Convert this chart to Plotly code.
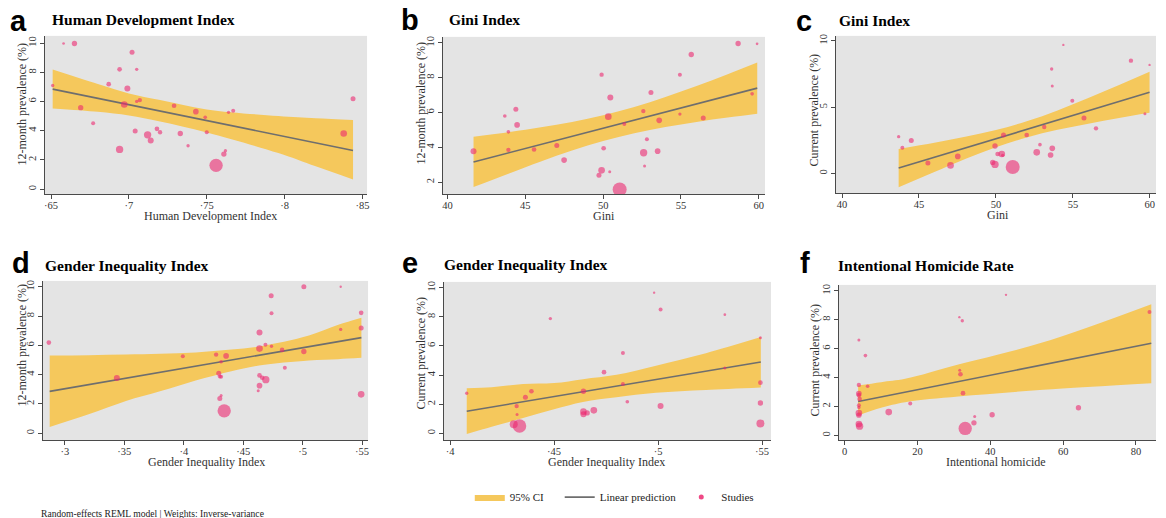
import plotly.graph_objects as go

W, H = 1166, 518

# ---------------- data ----------------
# a: Human Development Index vs 12-month prevalence
hdi_a = [0.651, 0.658, 0.665, 0.669, 0.677, 0.687, 0.694, 0.694, 0.697, 0.699, 0.702, 0.704, 0.705, 0.705, 0.707, 0.712,
         0.714, 0.718, 0.720, 0.729, 0.733, 0.738, 0.743, 0.749, 0.750, 0.756, 0.761, 0.762, 0.764, 0.767, 0.838, 0.844]
prev_a = [7.10, 9.98, 9.98, 5.58, 4.51, 7.19, 8.21, 2.72, 5.80, 6.89, 9.37, 3.99, 8.21, 6.01, 6.10, 3.72,
          3.33, 4.13, 3.90, 5.71, 3.81, 2.97, 5.31, 4.92, 3.90, 1.63, 2.40, 2.63, 5.26, 5.37, 3.81, 6.19]
wt_a = [10, 8, 16, 16, 12, 14, 14, 22, 20, 18, 15, 15, 10, 10, 13, 22, 18, 14, 13, 14, 16, 10, 17, 11, 12, 40, 16, 10, 10, 12, 20, 15]
ci_x_a = [0.651, 0.68, 0.70, 0.72, 0.75, 0.796, 0.82, 0.844]
ci_hi_a = [8.19, 7.20, 6.55, 6.10, 5.46, 5.01, 4.85, 4.74]
ci_lo_a = [5.53, 5.30, 5.05, 4.63, 3.88, 2.47, 1.56, 0.66]
fit_x_a = [0.651, 0.844]
fit_y_a = [6.85, 2.65]

# b: Gini vs 12-month prevalence
gini_b = [41.67, 43.68, 44.39, 43.91, 44.47, 43.91, 45.56, 47.02, 47.49, 49.90, 49.73, 49.90, 50.03, 50.33, 50.46, 50.42,
          51.06, 51.36, 52.58, 52.60, 52.66, 52.81, 53.07, 53.50, 53.60, 54.93, 54.93, 55.66, 56.43, 58.67, 59.57, 59.89]
prev_b = [3.78, 5.80, 6.18, 4.89, 5.29, 3.86, 3.88, 4.11, 3.27, 8.17, 2.40, 2.68, 3.95, 5.76, 6.86, 2.60,
          1.58, 5.34, 6.08, 3.69, 2.93, 4.47, 7.15, 3.78, 5.55, 8.17, 5.91, 9.33, 5.68, 9.96, 7.07, 9.94]
wt_b = [18, 11, 15, 11, 17, 13, 14, 15, 17, 13, 15, 20, 14, 20, 18, 9, 42, 12, 13, 22, 9, 12, 15, 17, 17, 12, 10, 16, 15, 16, 11, 8]
ci_x_b = [41.67, 44, 46, 48, 50, 52, 54, 56, 58, 59.9]
ci_hi_b = [4.61, 4.88, 5.15, 5.46, 5.84, 6.31, 6.89, 7.52, 8.20, 8.87]
ci_lo_b = [1.72, 2.52, 3.19, 3.82, 4.36, 4.81, 5.17, 5.46, 5.71, 5.93]
fit_x_b = [41.67, 59.9]
fit_y_b = [3.16, 7.40]

# c: Gini vs current prevalence
gini_c = [43.68, 43.92, 44.50, 45.58, 47.05, 47.52, 49.79, 49.94, 49.94, 50.11, 50.38, 50.44, 50.49, 51.09, 52.00,
          52.65, 52.86, 53.14, 53.55, 53.66, 53.62, 53.66, 54.38, 54.96, 55.72, 56.50, 58.77, 59.68, 59.98]
prev_c = [2.77, 1.94, 2.49, 0.78, 0.60, 1.28, 0.83, 2.07, 0.68, 1.46, 1.46, 1.36, 2.90, 0.48, 2.90,
          1.59, 2.17, 3.50, 1.39, 1.89, 7.88, 6.60, 9.70, 5.49, 4.18, 3.40, 8.51, 4.51, 8.19]
wt_c = [10, 12, 15, 15, 20, 17, 16, 16, 22, 14, 20, 10, 15, 42, 14, 20, 11, 13, 17, 17, 10, 9, 7, 12, 15, 13, 13, 9, 7]
ci_x_c = [43.68, 46, 48, 50, 52, 54, 56, 58, 59.98]
ci_hi_c = [1.85, 2.32, 2.76, 3.27, 3.93, 4.75, 5.69, 6.68, 7.68]
ci_lo_c = [-1.05, 0.10, 1.08, 1.97, 2.71, 3.29, 3.75, 4.18, 4.57]
fit_x_c = [43.68, 59.98]
fit_y_c = [0.40, 6.12]

# d: Gender Inequality Index vs 12-month prevalence
gii_d = [0.2865, 0.3437, 0.3992, 0.4272, 0.4294, 0.4303, 0.4314, 0.4314, 0.4356, 0.4314, 0.4303, 0.4340, 0.4637, 0.4637,
         0.4637, 0.4637, 0.4626, 0.4660, 0.4690, 0.4687, 0.4735, 0.4738, 0.4738, 0.4827, 0.4850, 0.5010, 0.5010,
         0.5320, 0.5320, 0.5492, 0.5492, 0.5492]
prev_d = [6.19, 3.77, 5.26, 5.37, 4.09, 3.88, 3.86, 4.88, 5.28, 2.57, 2.37, 1.53, 6.88, 5.78,
          3.95, 3.25, 2.91, 3.79, 3.66, 6.05, 9.39, 8.19, 5.94, 5.69, 4.47, 10.0, 5.58,
          10.0, 7.09, 8.22, 7.18, 2.66]
wt_d = [14, 18, 12, 13, 15, 12, 12, 11, 17, 9, 15, 40, 18, 20, 14, 17, 9, 14, 22, 12, 15, 12, 10, 14, 12, 15, 16, 7, 10, 14, 15, 20]
ci_x_d = [0.2872, 0.32, 0.3514, 0.38, 0.41, 0.44, 0.4633, 0.5053, 0.53, 0.5494]
ci_hi_d = [5.31, 5.33, 5.37, 5.42, 5.52, 5.71, 5.92, 6.67, 7.40, 7.88]
ci_lo_d = [0.43, 1.29, 2.20, 2.86, 3.60, 4.24, 4.63, 4.97, 5.06, 5.15]
fit_x_d = [0.2872, 0.5494]
fit_y_d = [2.86, 6.53]

# e: Gender Inequality Index vs current prevalence
gii_e = [0.408, 0.4306, 0.432, 0.4322, 0.4334, 0.4362, 0.4391, 0.4482, 0.4641, 0.4641, 0.4641, 0.4659, 0.4691,
         0.4740, 0.4831, 0.4831, 0.4852, 0.4981, 0.5012, 0.5012, 0.5321, 0.5321, 0.5492, 0.5492, 0.5492, 0.5492]
prev_e = [2.75, 0.63, 1.87, 1.29, 0.50, 2.48, 2.89, 7.88, 2.89, 1.49, 1.31, 1.40, 1.58,
          4.20, 5.51, 3.39, 2.17, 9.66, 8.51, 1.87, 8.15, 4.49, 6.57, 3.48, 2.08, 0.68]
wt_e = [10, 24, 13, 9, 40, 15, 14, 10, 16, 20, 18, 16, 20, 14, 12, 12, 11, 7, 12, 18, 8, 9, 9, 14, 16, 24]
ci_x_e = [0.408, 0.42, 0.4351, 0.45, 0.4639, 0.48, 0.499, 0.523, 0.5494]
ci_hi_e = [3.10, 3.17, 3.38, 3.45, 3.72, 4.02, 4.65, 5.50, 6.61]
ci_lo_e = [-0.05, 0.45, 1.05, 1.65, 2.15, 2.47, 2.78, 2.97, 3.14]
fit_x_e = [0.408, 0.5494]
fit_y_e = [1.52, 4.90]

# f: Intentional homicide vs current prevalence
hom_f = [3.9, 3.9, 3.9, 3.9, 4.1, 3.9, 3.9, 3.9, 3.9, 3.9, 4.1, 5.7, 6.3, 12.1, 18.0, 31.5, 32.3, 31.6, 31.8, 32.5,
         33.1, 35.5, 35.7, 40.5, 44.3, 64.2, 83.7]
prev_f = [6.60, 3.49, 2.90, 2.78, 2.51, 2.09, 1.93, 1.54, 1.40, 0.78, 0.64, 5.52, 3.40, 1.61, 2.21, 8.18, 7.93, 4.51,
          4.23, 2.92, 0.48, 0.87, 1.31, 1.43, 9.72, 1.91, 8.53]
wt_f = [9, 13, 17, 14, 14, 12, 10, 20, 16, 20, 22, 11, 11, 20, 12, 7, 10, 9, 14, 14, 40, 16, 9, 16, 7, 16, 12]
ci_x_f = [3.7, 10, 16.6, 31.2, 54.5, 84.2]
ci_hi_f = [3.45, 3.68, 3.91, 4.90, 6.44, 9.08]
ci_lo_f = [1.38, 1.91, 2.30, 2.69, 3.15, 3.61]
fit_x_f = [3.7, 84.2]
fit_y_f = [2.34, 6.37]

# tick labels
xt_a = [0.65, 0.7, 0.75, 0.8, 0.85]
xl_a = ['·65', '·7', '·75', '·8', '·85']
xt_gini = [40, 45, 50, 55, 60]
xt_d = [0.3, 0.35, 0.4, 0.45, 0.5, 0.55]
xl_d = ['·3', '·35', '·4', '·45', '·5', '·55']
xt_e = [0.4, 0.45, 0.5, 0.55]
xl_e = ['·4', '·45', '·5', '·55']
xt_f = [0, 20, 40, 60, 80]
yt_10 = [0, 2, 4, 6, 8, 10]
yt_b = [2, 4, 6, 8, 10]
yt_c = [0, 5, 10]

panel_letters = ['a', 'b', 'c', 'd', 'e', 'f']
panel_titles = ['Human Development Index', 'Gini Index', 'Gini Index',
                'Gender Inequality Index', 'Gender Inequality Index', 'Intentional Homicide Rate']
x_titles = ['Human Development Index', 'Gini', 'Gini', 'Gender Inequality Index',
            'Gender Inequality Index', 'Intentional homicide']
y_titles = ['12-month prevalence (%)', '12-month prevalence (%)', 'Current prevalence (%)',
            '12-month prevalence (%)', 'Current prevalence (%)', 'Current prevalence (%)']
legend_names = ['95% CI', 'Linear prediction', 'Studies']

# ---------------- styling ----------------
BAND = 'rgb(245,200,92)'
LINE = '#6e6e6e'
DOT = 'rgba(236,38,110,0.84)'
BG = '#e4e4e4'
AX = '#4a4a4a'
SERIF = 'Liberation Serif'
SANS = 'Liberation Sans'

panels = [
    dict(x=hdi_a, y=prev_a, w=wt_a, cx=ci_x_a, hi=ci_hi_a, lo=ci_lo_a, fx=fit_x_a, fy=fit_y_a,
         box=(44, 34, 367, 193), xr=[0.646, 0.853], yr=[-0.35, 10.5], xt=xt_a, xl=xl_a, yt=yt_10,
         letter=(18, 19), title=(49, 18), ytl=(21, 102), xtl=(210, 215)),
    dict(x=gini_b, y=prev_b, w=wt_b, cx=ci_x_b, hi=ci_hi_b, lo=ci_lo_b, fx=fit_x_b, fy=fit_y_b,
         box=(443, 35, 766, 193), xr=[39.7, 60.4], yr=[1.31, 10.34], xt=xt_gini, xl=None, yt=yt_b,
         letter=(410, 18), title=(447, 18), ytl=(421, 101), xtl=(605, 215)),
    dict(x=gini_c, y=prev_c, w=wt_c, cx=ci_x_c, hi=ci_hi_c, lo=ci_lo_c, fx=fit_x_c, fy=fit_y_c,
         box=(837, 34, 1158, 192), xr=[39.6, 60.4], yr=[-1.5, 10.38], xt=xt_gini, xl=None, yt=yt_c,
         letter=(805, 19), title=(838, 19), ytl=(815, 108), xtl=(1000, 214)),
    dict(x=gii_d, y=prev_d, w=wt_d, cx=ci_x_d, hi=ci_hi_d, lo=ci_lo_d, fx=fit_x_d, fy=fit_y_d,
         box=(42, 280, 368, 440), xr=[0.2815, 0.555], yr=[-0.48, 10.4], xt=xt_d, xl=xl_d, yt=yt_10,
         letter=(20, 262), title=(42, 265), ytl=(21, 344), xtl=(206, 462)),
    dict(x=gii_e, y=prev_e, w=wt_e, cx=ci_x_e, hi=ci_hi_e, lo=ci_lo_e, fx=fit_x_e, fy=fit_y_e,
         box=(444, 281, 772, 440), xr=[0.397, 0.5543], yr=[-0.48, 10.4], xt=xt_e, xl=xl_e, yt=yt_10,
         letter=(410, 262), title=(442, 264), ytl=(421, 352), xtl=(607, 462)),
    dict(x=hom_f, y=prev_f, w=wt_f, cx=ci_x_f, hi=ci_hi_f, lo=ci_lo_f, fx=fit_x_f, fy=fit_y_f,
         box=(840, 284, 1158, 440), xr=[-1.6, 85.5], yr=[-0.34, 10.41], xt=xt_f, xl=None, yt=yt_10,
         letter=(806, 262), title=(837, 265), ytl=(816, 359), xtl=(998, 462)),
]


def px(x):
    return x / W


def py(y):
    return 1 - y / H


fig = go.Figure()
layout = dict(
    width=W, height=H, margin=dict(l=0, r=0, t=0, b=0),
    paper_bgcolor='white', plot_bgcolor=BG,
    font=dict(family=SERIF, size=11, color='#222'),
    showlegend=True,
    legend=dict(orientation='h', x=px(470), y=py(497), xanchor='left', yanchor='middle',
                font=dict(family=SERIF, size=11, color='#222'), bgcolor='rgba(0,0,0,0)',
                itemwidth=30, tracegroupgap=0),
)
annotations = []

for i, p in enumerate(panels):
    n = '' if i == 0 else str(i + 1)
    xa, ya = 'x' + n, 'y' + n
    first = (i == 0)
    # CI band
    fig.add_trace(go.Scatter(x=p['cx'], y=p['lo'], mode='lines', line=dict(width=0, color=BAND, shape='spline'),
                             xaxis=xa, yaxis=ya, showlegend=False, hoverinfo='skip'))
    fig.add_trace(go.Scatter(x=p['cx'], y=p['hi'], mode='lines', line=dict(width=0, color=BAND, shape='spline'),
                             fill='tonexty', fillcolor=BAND, xaxis=xa, yaxis=ya,
                             name=legend_names[0] + '\u00a0\u00a0\u00a0\u00a0',
                             legendgroup='ci', showlegend=first, hoverinfo='skip'))
    # linear prediction
    fig.add_trace(go.Scatter(x=p['fx'], y=p['fy'], mode='lines', line=dict(width=1.6, color=LINE),
                             xaxis=xa, yaxis=ya, name=legend_names[1], legendgroup='lp', showlegend=first))
    # studies (sizes scaled from the study weights)
    fig.add_trace(go.Scatter(x=p['x'], y=p['y'], mode='markers',
                             marker=dict(size=p['w'], sizemode='diameter', sizeref=3, color=DOT, line=dict(width=0)),
                             xaxis=xa, yaxis=ya, name=legend_names[2], legendgroup='st', showlegend=False))

    x0, y0, x1, y1 = p['box']
    common = dict(showline=True, linecolor=AX, linewidth=1, ticks='outside', ticklen=4, tickcolor=AX,
                  tickwidth=1, showgrid=False, zeroline=False,
                  tickfont=dict(family=SERIF, size=10.5, color='#333'))
    xaxis = dict(common, domain=[px(x0), px(x1)], range=p['xr'], anchor=ya, tickvals=p['xt'],
                 ticklabelstandoff=-3)
    if p['xl'] is not None:
        xaxis['ticktext'] = p['xl']
    yaxis = dict(common, domain=[py(y1), py(y0)], range=p['yr'], anchor=xa, tickvals=p['yt'], tickangle=-90)
    layout['xaxis' + n] = xaxis
    layout['yaxis' + n] = yaxis

    lx, ly = p['letter']
    annotations.append(dict(text='<b>%s</b>' % panel_letters[i], x=px(lx), y=py(ly), xref='paper', yref='paper',
                            xanchor='center', yanchor='middle', showarrow=False,
                            font=dict(family=SANS, size=29, color='black')))
    tx, ty = p['title']
    annotations.append(dict(text='<b>%s</b>' % panel_titles[i], x=px(tx), y=py(ty), xref='paper', yref='paper',
                            xanchor='left', yanchor='middle', showarrow=False,
                            font=dict(family=SERIF, size=15.5, color='black')))
    yx, yy = p['ytl']
    annotations.append(dict(text=y_titles[i], x=px(yx), y=py(yy), xref='paper', yref='paper',
                            xanchor='center', yanchor='middle', textangle=-90, showarrow=False,
                            font=dict(family=SERIF, size=12, color='#333')))
    xx, xy = p['xtl']
    annotations.append(dict(text=x_titles[i], x=px(xx), y=py(xy), xref='paper', yref='paper',
                            xanchor='center', yanchor='middle', showarrow=False,
                            font=dict(family=SERIF, size=12, color='#333')))

# legend entry for the study markers (small dot, as in the reference legend)
fig.add_trace(go.Scatter(x=[None], y=[None], mode='markers', marker=dict(size=5, color=DOT),
                         name=legend_names[2], legendgroup='st', showlegend=True))

annotations.append(dict(text='Random-effects REML model | Weights: Inverse-variance', x=px(38), y=py(513),
                        xref='paper', yref='paper', xanchor='left', yanchor='middle', showarrow=False,
                        font=dict(family=SERIF, size=9.6, color='#222')))

layout['annotations'] = annotations
fig.update_layout(**layout)
fig.write_html('out.html', config={'displayModeBar': False},
               post_script="document.body.style.margin='0px';document.body.style.padding='0px';"
                           "document.body.style.overflow='hidden';")
